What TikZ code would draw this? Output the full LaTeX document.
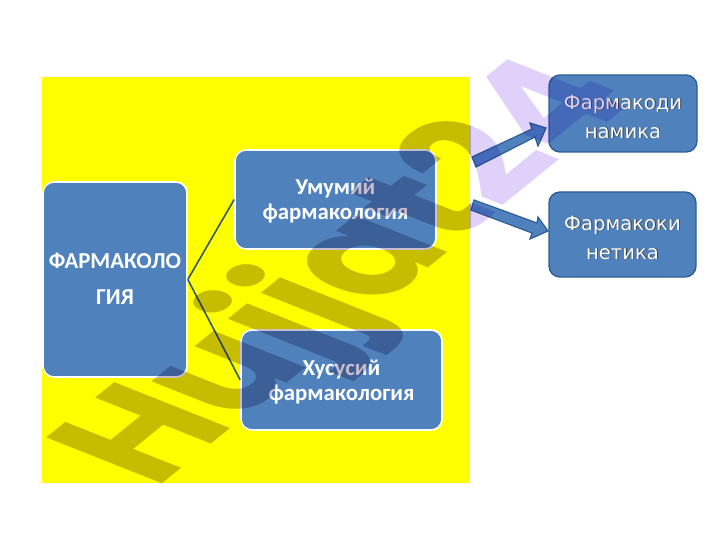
\documentclass[tikz,border=0pt]{standalone}
\usepackage{fontspec}
\setmainfont{Carlito}
\newfontfamily\rfont{DejaVu Sans}
\newfontfamily\wmfont{Poppins}
\definecolor{pureyellow}{rgb}{1,1,0}
\definecolor{boxblue}{HTML}{4F81BD}
\definecolor{boxedge}{HTML}{2F5E96}
\definecolor{linkc}{HTML}{3A5670}
\definecolor{wmin}{rgb}{0.78,0.74,0.80}
\definecolor{wmout}{rgb}{0.88,0.82,0.98}
\newcommand{\shtext}[1]{\leavevmode\rlap{\kern0.9pt\raisebox{-0.9pt}{\textcolor{black!75}{#1}}}#1}
\newcommand{\wmtext}[2]{\begin{scope}[cm={1.12,0.91,-1.65,0.655,(155.5,490)}]
\node[anchor=base west,inner sep=0pt,transform shape,text=#1,font=\wmfont\bfseries\fontsize{100}{100}\selectfont] (#2) at (0,0) {Hujjat24};
\end{scope}}
\tikzset{
 leftbox/.style={draw=white,line width=1.6pt,fill=boxblue,rounded corners=11pt,inner sep=0pt},
 lefttext/.style={text=white,font=\bfseries\fontsize{22.8}{25}\selectfont,align=center},
 rightbox/.style={draw=boxedge,line width=1.4pt,fill=boxblue,rounded corners=11pt,inner sep=0pt},
 righttext/.style={text=white,font=\rfont\fontsize{19.6}{29}\selectfont,align=center},
 blockarrow/.style={draw=boxedge,line width=1.2pt,fill=boxblue,line join=miter},
 link/.style={draw=linkc,line width=1.6pt},
}
\begin{document}
\begin{tikzpicture}[x=1pt,y=-1pt]
\useasboundingbox[fill=white] (0,0) rectangle (720,540);
\node[fill=pureyellow,inner sep=0pt,minimum width=428pt,minimum height=406pt] (bg) at (256,280) {};
\node[leftbox,minimum width=144pt,minimum height=195pt] (main) at (115,279.5) {};
\node[lefttext,font=\bfseries\fontsize{22.8}{36}\selectfont] (maintext) at (115,279) {ФАРМАКОЛО\\ГИЯ};
\node[leftbox,minimum width=201pt,minimum height=99pt] (um) at (335.5,199.5) {};
\node[lefttext] (umtext) at (335.5,201.5) {Умумий\\фармакология};
\node[leftbox,minimum width=201pt,minimum height=100pt] (xu) at (341.5,380) {};
\node[lefttext] (xutext) at (341.5,382) {Хусусий\\фармакология};
\draw[link] (main.east) -- (um.west);
\draw[link] (main.east) -- (xu.west);
\node[rightbox,minimum width=148pt,minimum height=77pt] (fd) at (623,113.5) {};
\node[righttext] (fdtext) at (623,117) {\shtext{Фармакоди}\\\shtext{намика}};
\node[rightbox,minimum width=147pt,minimum height=85pt] (fk) at (622.5,234.5) {};
\node[righttext] (fktext) at (622.5,238) {\shtext{Фармакоки}\\\shtext{нетика}};
\coordinate (a1) at (472,157);
\coordinate (a2) at (532,129);
\coordinate (a3) at (530,123);
\coordinate (a4) at (546,128);
\coordinate (a5) at (538,146);
\coordinate (a6) at (535,137);
\coordinate (a7) at (476,167);
\draw[blockarrow] (a1)--(a2)--(a3)--(a4)--(a5)--(a6)--(a7)--cycle;
\coordinate (b1) at (474,200);
\coordinate (b2) at (537,223);
\coordinate (b3) at (538,217);
\coordinate (b4) at (548,231);
\coordinate (b5) at (530,239);
\coordinate (b6) at (532,233);
\coordinate (b7) at (471,210);
\draw[blockarrow] (b1)--(b2)--(b3)--(b4)--(b5)--(b6)--(b7)--cycle;
\begin{scope}[blend mode=multiply]
\begin{scope}
\clip (0,0) rectangle (470,540);
\wmtext{wmin}{wmka}
\end{scope}
\begin{scope}
\clip (470,0) rectangle (720,540);
\wmtext{wmout}{wmkb}
\end{scope}
\end{scope}
\end{tikzpicture}
\end{document}
